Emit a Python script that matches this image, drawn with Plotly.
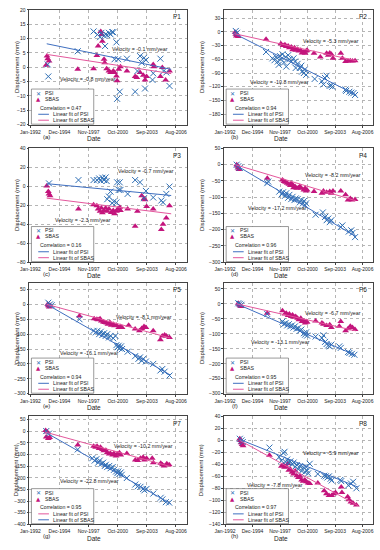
import plotly.graph_objects as go
import pandas as pd

# ---------------- data (decimal year, displacement mm) ----------------
P1_PSI = [(1993.74, 1.0), (1993.80, -3.2), (1996.75, 5.6), (1998.33, 12.5), (1998.72, 11.4), (1998.98, 10.5),
          (1999.11, 12.0), (1999.38, 11.0), (1999.54, 11.5), (1999.70, 11.2), (1999.87, 12.0), (2000.03, 11.5),
          (2000.20, 12.3), (1999.48, 7.4), (2000.30, 12.2), (2000.43, 2.8), (2000.62, 8.7), (2000.79, 2.8),
          (2000.69, -11.0), (2000.95, -8.5), (2001.67, 3.0), (2002.49, -8.5), (2002.72, -1.3), (2002.98, 3.9),
          (2003.15, 1.6), (2003.38, 3.3), (2003.57, 2.5), (2003.48, -7.4), (2004.23, -4.4), (2004.30, -2.1),
          (2005.02, 3.0), (2005.34, -1.3), (2005.61, -1.8), (2005.93, -6.5)]
P1_SBAS = [(1993.57, 0.7), (1993.67, 3.9), (1993.74, 3.0), (1993.87, 2.2), (1996.75, -0.7), (1998.33, -0.5),
           (1998.66, 4.1), (1998.79, 7.4), (1999.05, 12.5), (1999.15, 11.4), (1999.21, 9.1), (1999.38, 2.8),
           (1999.44, 1.6), (1999.64, -0.5), (1999.87, -1.3), (2000.03, -1.8), (2000.30, -1.3), (2000.43, -1.8),
           (2000.62, -3.0), (2000.69, -4.7), (2000.85, -0.7), (2001.02, 0.2), (2001.67, -1.3), (2002.49, -3.2),
           (2002.66, -3.6), (2002.98, -1.8), (2003.31, -2.8), (2003.48, -4.4), (2003.64, -3.2), (2004.30, 1.0),
           (2004.36, 0.2), (2005.02, -3.2), (2005.21, -0.1), (2005.54, -4.4), (2005.93, -1.3)]
P1_FIT_T = [1993.64, 2006.10]
P1_FIT_PSI = [8.2, -0.7]
P1_FIT_SBAS = [4.5, -2.2]

P2_PSI = [(1993.14, 2), (1993.27, -2), (1996.35, -44), (1997.02, -58), (1997.25, -62), (1997.42, -55),
          (1997.59, -65), (1997.69, -72), (1997.82, -53), (1997.92, -60), (1998.09, -49), (1998.25, -67),
          (1998.42, -55), (1998.49, -76), (1998.69, -51), (1998.82, -60), (1999.02, -65), (1999.26, -58),
          (1999.42, -65), (1999.49, -79), (1999.69, -70), (1999.93, -79), (2000.09, -74), (2000.16, -87),
          (2000.36, -90), (2000.43, -83), (2000.60, -94), (2001.50, -103), (2002.27, -108), (2002.43, -115),
          (2002.60, -101), (2002.77, -96), (2003.10, -118), (2003.27, -117), (2003.37, -120), (2004.78, -126),
          (2004.84, -129), (2005.18, -131), (2005.38, -133), (2005.61, -134), (2005.78, -138)]
P2_SBAS = [(1993.07, -1), (1993.14, -5), (1993.20, -9), (1993.30, -6), (1993.40, -10), (1996.35, -16),
           (1997.92, -26), (1998.15, -30), (1998.35, -28), (1998.49, -32), (1998.69, -31), (1998.82, -35),
           (1999.02, -33), (1999.16, -39), (1999.36, -35), (1999.49, -40), (1999.69, -38), (1999.83, -42),
           (2000.03, -40), (2000.16, -46), (2000.36, -44), (2000.49, -47), (2000.60, -42), (2000.70, -40),
           (2001.43, -47), (2002.10, -55), (2002.77, -47), (2002.94, -51), (2003.10, -46), (2003.27, -49),
           (2003.44, -58), (2004.27, -47), (2004.44, -58), (2004.78, -65), (2005.04, -64), (2005.28, -63),
           (2005.51, -64), (2005.78, -63)]
P2_FIT_T = [1993.0, 2005.90]
P2_FIT_PSI = [-4, -138]
P2_FIT_SBAS = [-4, -63]

P3_PSI = [(1993.87, 3.1), (1996.82, 6.6), (1998.33, 6.6), (1998.66, 6.6), (1998.89, 8.3), (1999.05, 5.9),
          (1999.21, 9.0), (1999.38, 6.6), (1999.54, 9.4), (1999.64, 5.6), (1999.70, -13.6), (1999.87, -10.8),
          (2000.03, -5.6), (2000.20, -17.7), (2000.36, -16.0), (2000.62, -17.0), (2000.69, 4.2), (2000.85, -3.8),
          (2000.95, 4.2), (2001.02, -3.8), (2001.74, -8.0), (2002.49, 6.6), (2002.98, 4.2), (2003.38, -12.5),
          (2003.57, -4.9), (2004.30, -11.8), (2005.11, -15.0), (2005.28, -17.0), (2005.61, -8.0), (2005.93, -0.3)]
P3_SBAS = [(1993.64, 0.3), (1993.80, -5.6), (1993.87, -8.0), (1993.97, -10.0), (1996.82, -24), (1998.33, -19.5),
           (1998.66, -20.5), (1998.79, -24), (1998.98, -26.4), (1999.11, -23), (1999.21, -28), (1999.38, -25.4),
           (1999.54, -23), (1999.70, -26.4), (1999.87, -24), (2000.10, -27.5), (2000.30, -25.4), (2000.43, -29),
           (2000.62, -26.4), (2000.75, -24), (2000.95, -22), (2001.02, -25.4), (2001.74, -24), (2002.49, -42),
           (2002.72, -26.4), (2003.15, -10), (2003.38, -13.2), (2003.48, -14.3), (2003.64, -21.2), (2004.30, -24),
           (2005.11, -45.5), (2005.28, -40), (2005.61, -33.4), (2005.93, -20.5)]
P3_FIT_T = [1993.64, 2006.10]
P3_FIT_PSI = [2.8, -9.7]
P3_FIT_SBAS = [-12.5, -29]

P4_PSI = [(1993.24, 0), (1993.40, -5), (1993.57, -10), (1996.48, -57), (1996.58, -52), (1997.75, -83),
          (1998.02, -91), (1998.15, -85), (1998.35, -96), (1998.49, -88), (1998.69, -102), (1998.82, -93),
          (1999.02, -106), (1999.16, -99), (1999.36, -109), (1999.49, -104), (1999.69, -106), (1999.93, -116),
          (2000.09, -109), (2000.26, -119), (2000.36, -112), (2000.49, -125), (2000.60, -119), (2001.60, -154),
          (2002.37, -147), (2002.60, -161), (2002.77, -171), (2002.94, -166), (2003.10, -177), (2003.27, -171),
          (2004.27, -192), (2004.44, -187), (2005.11, -206), (2005.38, -202), (2005.51, -210), (2005.78, -223)]
P4_SBAS = [(1993.24, 0), (1993.34, -5), (1993.40, -10), (1993.47, -15), (1996.48, -42), (1998.09, -47),
           (1998.25, -52), (1998.42, -54), (1998.59, -57), (1998.76, -60), (1998.92, -64), (1999.02, -57),
           (1999.16, -62), (1999.26, -71), (1999.42, -67), (1999.59, -73), (1999.76, -71), (1999.93, -67),
           (2000.09, -73), (2000.36, -78), (2000.49, -73), (2000.60, -81), (2000.70, -78), (2001.43, -83),
           (2002.27, -88), (2002.43, -81), (2002.77, -85), (2003.10, -83), (2003.27, -88), (2003.44, -81),
           (2004.27, -81), (2004.78, -93), (2005.04, -109), (2005.28, -104), (2005.44, -109), (2005.78, -107)]
P4_FIT_T = [1993.07, 2005.85]
P4_FIT_PSI = [0, -221]
P4_FIT_SBAS = [0, -111]

P5_PSI = [(1993.80, 5.5), (1993.97, 0), (1994.13, -3), (1996.92, -50), (1998.33, -89), (1998.56, -94),
          (1998.72, -89), (1998.89, -100), (1999.05, -92), (1999.21, -103), (1999.38, -97), (1999.54, -106),
          (1999.70, -100), (1999.87, -111), (2000.03, -106), (2000.30, -114), (2000.52, -106), (2000.62, -137),
          (2000.75, -144), (2000.85, -139), (2000.95, -148), (2001.08, -141), (2001.18, -150), (2001.74, -159),
          (2002.49, -174), (2002.82, -183), (2002.98, -178), (2003.15, -189), (2003.31, -183), (2003.57, -192),
          (2004.30, -200), (2005.02, -222), (2005.21, -217), (2005.44, -226), (2005.93, -239)]
P5_SBAS = [(1993.74, 0), (1993.80, -5), (1993.90, -9), (1993.97, -3), (1996.92, -39), (1998.39, -48),
           (1998.66, -50), (1998.79, -52), (1998.98, -48), (1999.11, -56), (1999.31, -59), (1999.44, -61),
           (1999.64, -63), (1999.77, -67), (1999.97, -61), (2000.10, -70), (2000.30, -67), (2000.43, -72),
           (2000.62, -70), (2000.85, -78), (2001.02, -74), (2001.18, -78), (2001.84, -70), (2002.49, -83),
           (2002.92, -89), (2003.15, -81), (2003.38, -74), (2003.57, -78), (2004.30, -89), (2005.02, -119),
           (2005.21, -106), (2005.44, -103), (2005.61, -106), (2005.93, -111)]
P5_FIT_T = [1993.64, 2006.0]
P5_FIT_PSI = [0, -237]
P5_FIT_SBAS = [0, -113]

P6_PSI = [(1993.40, 2), (1993.57, 0), (1993.74, -3), (1996.48, -34), (1998.09, -59), (1998.25, -68),
          (1998.42, -64), (1998.59, -72), (1998.76, -68), (1998.92, -75), (1999.09, -72), (1999.26, -79),
          (1999.42, -75), (1999.59, -83), (1999.76, -81), (1999.93, -90), (2000.09, -86), (2000.36, -98),
          (2000.49, -103), (2000.60, -95), (2000.70, -106), (2001.60, -109), (2002.27, -114), (2002.43, -105),
          (2002.60, -127), (2002.77, -134), (2002.94, -139), (2003.10, -142), (2003.27, -136), (2004.11, -142),
          (2004.27, -147), (2005.04, -161), (2005.18, -164), (2005.44, -167), (2005.71, -170)]
P6_SBAS = [(1993.40, 2), (1993.51, -3), (1993.61, -7), (1993.74, -9), (1996.48, -31), (1998.09, -23),
           (1998.35, -34), (1998.49, -31), (1998.69, -39), (1998.82, -34), (1999.02, -42), (1999.16, -37),
           (1999.36, -45), (1999.49, -42), (1999.69, -48), (1999.83, -53), (2000.03, -48), (2000.16, -59),
           (2000.36, -57), (2000.49, -64), (2000.60, -59), (2000.70, -61), (2001.60, -57), (2002.27, -64),
           (2002.43, -68), (2002.77, -72), (2003.10, -70), (2003.27, -79), (2004.11, -75), (2004.27, -59),
           (2004.78, -90), (2005.04, -83), (2005.28, -75), (2005.51, -79), (2005.78, -86)]
P6_FIT_T = [1993.24, 2005.85]
P6_FIT_PSI = [0, -172]
P6_FIT_SBAS = [0, -90]

P7_PSI = [(1993.59, 1), (1993.86, -10), (1996.75, -78), (1998.20, -116), (1998.44, -126), (1998.61, -120),
          (1998.78, -135), (1998.95, -126), (1999.12, -140), (1999.29, -135), (1999.46, -149), (1999.56, -144),
          (1999.69, -154), (1999.90, -149), (2000.03, -159), (2000.24, -154), (2000.37, -166), (2000.58, -173),
          (2000.71, -180), (2000.81, -173), (2000.92, -183), (2001.05, -177), (2001.15, -187), (2001.66, -201),
          (2002.51, -229), (2002.75, -237), (2003.02, -239), (2003.29, -248), (2003.42, -254), (2003.63, -248),
          (2004.31, -268), (2005.05, -286), (2005.22, -293), (2005.56, -305), (2005.90, -307)]
P7_SBAS = [(1993.53, 4), (1993.69, -3), (1993.59, -24), (1993.80, -31), (1993.93, -27), (1996.75, -59),
           (1998.34, -64), (1998.54, -69), (1998.68, -64), (1998.88, -74), (1999.02, -69), (1999.22, -78),
           (1999.36, -84), (1999.56, -81), (1999.69, -92), (1999.90, -98), (2000.03, -95), (2000.24, -102),
           (2000.37, -95), (2000.58, -106), (2000.71, -98), (2000.92, -92), (2001.05, -102), (2001.66, -95),
           (2002.51, -123), (2002.75, -126), (2003.02, -116), (2003.29, -112), (2003.42, -123), (2003.63, -116),
           (2004.20, -116), (2004.31, -135), (2005.05, -137), (2005.22, -144), (2005.39, -149), (2005.66, -140),
           (2005.90, -144)]
P7_FIT_T = [1993.46, 2006.07]
P7_FIT_PSI = [-3, -312]
P7_FIT_SBAS = [-3, -152]

P8_PSI = [(1993.57, 2.7), (1993.74, 0), (1993.88, -2.7), (1996.71, -12), (1997.73, -28), (1997.97, -34),
          (1998.18, -21), (1998.31, -19), (1998.42, -36), (1998.59, -32), (1998.76, -37), (1998.93, -35),
          (1999.10, -40), (1999.27, -37), (1999.44, -44), (1999.61, -41), (1999.78, -48), (1999.95, -43),
          (2000.12, -51), (2000.29, -45), (2000.46, -53), (2000.57, -44), (2000.70, -50), (2000.81, -55),
          (2000.98, -39), (2001.83, -56), (2002.51, -59), (2002.68, -60), (2002.85, -62), (2003.02, -60),
          (2003.19, -64), (2003.30, -67), (2004.22, -66), (2004.32, -68), (2005.07, -75), (2005.34, -72),
          (2005.58, -69), (2005.92, -80)]
P8_SBAS = [(1993.57, 2.7), (1993.64, 0), (1993.71, -4), (1993.81, -7), (1993.91, -9), (1996.71, -25),
           (1997.97, -43), (1998.18, -41), (1998.31, -45), (1998.52, -44), (1998.66, -39), (1998.76, -50),
           (1998.93, -48), (1999.10, -53), (1999.27, -56), (1999.44, -51), (1999.61, -59), (1999.78, -62),
           (1999.95, -60), (2000.12, -66), (2000.29, -68), (2000.46, -66), (2000.63, -69), (2000.81, -71),
           (2000.98, -72), (2001.83, -71), (2002.51, -84), (2002.75, -89), (2003.02, -92), (2003.30, -92),
           (2003.54, -89), (2003.71, -87), (2004.32, -78), (2004.39, -87), (2005.00, -94), (2005.14, -99),
           (2005.34, -103), (2005.58, -105), (2005.92, -108)]
P8_FIT_T = [1993.57, 2006.10]
P8_FIT_PSI = [1.6, -78]
P8_FIT_SBAS = [0, -109]

PANEL_NAMES = ["P1", "P2", "P3", "P4", "P5", "P6", "P7", "P8"]
PANEL_LETTERS = ["(a)", "(b)", "(c)", "(d)", "(e)", "(f)", "(g)", "(h)"]
CORRELATIONS = ["0.47", "0.94", "0.16", "0.96", "0.94", "0.95", "0.95", "0.97"]
VEL_UPPER = ["-0.1", "-5.3", "-0.7", "-8.2", "-8.1", "-6.7", "-10.2", "-5.9"]
VEL_LOWER = ["-0.8", "-10.8", "-2.3", "-17.2", "-16.1", "-13.1", "-22.8", "-7.8"]
Y_RANGES = [(-20, 20), (-203, 48), (-80, 40), (-300, 50), (-300, 72), (-300, 70), (-400, 64), (-140, 40)]
Y_DTICK = [5, 30, 20, 50, 50, 50, 50, 20]
X_TICK_DATES = ["1992-01-01", "1994-12-01", "1997-11-01", "2000-10-01", "2003-09-01", "2006-08-01"]
X_TICK_TEXT = ["Jan-1992", "Dec-1994", "Nov-1997", "Oct-2000", "Sep-2003", "Aug-2006"]
X_RANGE = ["1991-12-01", "2007-09-15"]

PSI_SETS = [P1_PSI, P2_PSI, P3_PSI, P4_PSI, P5_PSI, P6_PSI, P7_PSI, P8_PSI]
SBAS_SETS = [P1_SBAS, P2_SBAS, P3_SBAS, P4_SBAS, P5_SBAS, P6_SBAS, P7_SBAS, P8_SBAS]
FIT_T = [P1_FIT_T, P2_FIT_T, P3_FIT_T, P4_FIT_T, P5_FIT_T, P6_FIT_T, P7_FIT_T, P8_FIT_T]
FIT_PSI = [P1_FIT_PSI, P2_FIT_PSI, P3_FIT_PSI, P4_FIT_PSI, P5_FIT_PSI, P6_FIT_PSI, P7_FIT_PSI, P8_FIT_PSI]
FIT_SBAS = [P1_FIT_SBAS, P2_FIT_SBAS, P3_FIT_SBAS, P4_FIT_SBAS, P5_FIT_SBAS, P6_FIT_SBAS, P7_FIT_SBAS, P8_FIT_SBAS]

# ---------------- layout (pixels) ----------------
W, H = 380, 550
COLS = [(20, 182), (220, 373)]
ROWS = [(7, 123), (147, 262), (283, 395), (418, 527)]
VEL_POS_UPPER = [(133, 47), (330, 38), (140, 170), (332, 174), (138, 317), (332, 313), (137, 448), (330, 455)]
VEL_POS_LOWER = [(80, 77), (277, 80), (75, 219), (275, 207), (82, 354), (278, 343), (82, 483), (272, 487)]

PSI_COLOR = "#2f6fb5"
SBAS_COLOR = "#c3147c"
FIT_PSI_COLOR = "#3f6fc0"
FIT_SBAS_COLOR = "#e3579c"
FONT = "Liberation Sans"
TXT = "#222222"


def to_date(v):
    y = int(v)
    return pd.Timestamp(year=y, month=1, day=1) + pd.Timedelta(days=(v - y) * 365.25)


def px(x):
    return x / W


def py(y):
    return 1 - y / H


fig = go.Figure()
shapes = []
annotations = []

for k in range(8):
    r, c = k // 2, k % 2
    x0, x1 = COLS[c]
    y0, y1 = ROWS[r]
    sfx = "" if k == 0 else str(k + 1)
    xa, ya = "x" + sfx, "y" + sfx

    psi_t = [to_date(p[0]) for p in PSI_SETS[k]]
    psi_d = [p[1] for p in PSI_SETS[k]]
    sb_t = [to_date(p[0]) for p in SBAS_SETS[k]]
    sb_d = [p[1] for p in SBAS_SETS[k]]
    ft = [to_date(t) for t in FIT_T[k]]

    fig.add_trace(go.Scatter(x=sb_t, y=sb_d, mode="markers", xaxis=xa, yaxis=ya, showlegend=False,
                             marker=dict(symbol="triangle-up", size=6, color=SBAS_COLOR, line=dict(width=0))))
    fig.add_trace(go.Scatter(x=psi_t, y=psi_d, mode="markers", xaxis=xa, yaxis=ya, showlegend=False,
                             marker=dict(symbol="x-thin-open", size=6, color=PSI_COLOR,
                                         line=dict(width=1, color=PSI_COLOR))))
    fig.add_trace(go.Scatter(x=ft, y=FIT_PSI[k], mode="lines", xaxis=xa, yaxis=ya, showlegend=False,
                             line=dict(color=FIT_PSI_COLOR, width=1)))
    fig.add_trace(go.Scatter(x=ft, y=FIT_SBAS[k], mode="lines", xaxis=xa, yaxis=ya, showlegend=False,
                             line=dict(color=FIT_SBAS_COLOR, width=1)))

    common = dict(showline=True, mirror=True, linecolor="#444444", linewidth=0.8,
                  showgrid=True, gridcolor="#b5b5b5", gridwidth=0.6, griddash="dot",
                  ticks="outside", ticklen=2, tickwidth=0.6, tickcolor="#444444",
                  tickfont=dict(family=FONT, size=5, color=TXT), zeroline=False)
    fig.layout["xaxis" + sfx] = dict(domain=[px(x0), px(x1)], anchor=ya, type="date", range=X_RANGE,
                                     tickvals=X_TICK_DATES, ticktext=X_TICK_TEXT, **common)
    fig.layout["yaxis" + sfx] = dict(domain=[py(y1), py(y0)], anchor=xa, range=list(Y_RANGES[k]),
                                     dtick=Y_DTICK[k], tick0=0, **common)

    # panel name
    annotations.append(dict(x=px(x1 - 4), y=py(y0 + 7), xref="paper", yref="paper", text=PANEL_NAMES[k],
                            showarrow=False, xanchor="right", yanchor="middle",
                            font=dict(family=FONT, size=6.5, color=TXT)))
    # velocity labels
    for (vx, vy), val in ((VEL_POS_UPPER[k], VEL_UPPER[k]), (VEL_POS_LOWER[k], VEL_LOWER[k])):
        annotations.append(dict(x=px(vx), y=py(vy), xref="paper", yref="paper",
                                text="Velocity = " + val + " mm/year", showarrow=False,
                                xanchor="center", yanchor="middle",
                                font=dict(family=FONT, size=5.3, color=TXT)))
    # axis titles
    annotations.append(dict(x=px(7 if c == 0 else 197), y=py((y0 + y1) / 2), xref="paper", yref="paper",
                            text="Displacement (mm)", textangle=-90, showarrow=False,
                            xanchor="center", yanchor="middle", font=dict(family=FONT, size=6, color=TXT)))
    annotations.append(dict(x=px(x0 + (66 if c == 0 else 58)), y=py(y1 + 14), xref="paper", yref="paper",
                            text="Date", showarrow=False, xanchor="center", yanchor="middle",
                            font=dict(family=FONT, size=6.5, color=TXT)))
    annotations.append(dict(x=px(x0 + (17 if c == 0 else 11)), y=py(y1 + 12), xref="paper", yref="paper",
                            text=PANEL_LETTERS[k], showarrow=False, xanchor="center", yanchor="middle",
                            font=dict(family=FONT, size=6, color=TXT)))

    # legend box
    lx0, lx1 = x0 + 2, x0 + 66
    ly0, ly1 = y1 - 36, y1 - 0.5
    shapes.append(dict(type="rect", xref="paper", yref="paper", x0=px(lx0), x1=px(lx1), y0=py(ly1), y1=py(ly0),
                       fillcolor="white", line=dict(color="#555555", width=0.6), layer="above"))
    rows_y = [y1 - 32, y1 - 26, y1 - 17, y1 - 10.5, y1 - 4.5]
    annotations.append(dict(x=px(lx0 + 7), y=py(rows_y[0]), xref="paper", yref="paper", text="✕",
                            showarrow=False, xanchor="center", yanchor="middle",
                            font=dict(family="DejaVu Sans", size=6, color=PSI_COLOR)))
    annotations.append(dict(x=px(lx0 + 7), y=py(rows_y[1]), xref="paper", yref="paper", text="▲",
                            showarrow=False, xanchor="center", yanchor="middle",
                            font=dict(family="DejaVu Sans", size=5.5, color=SBAS_COLOR)))
    for yy, t in ((rows_y[0], "PSI"), (rows_y[1], "SBAS")):
        annotations.append(dict(x=px(lx0 + 12), y=py(yy), xref="paper", yref="paper", text=t,
                                showarrow=False, xanchor="left", yanchor="middle",
                                font=dict(family=FONT, size=5.2, color=TXT)))
    annotations.append(dict(x=px(lx0 + 7), y=py(rows_y[2]), xref="paper", yref="paper",
                            text="Correlation = " + CORRELATIONS[k], showarrow=False, xanchor="left",
                            yanchor="middle", font=dict(family=FONT, size=5.2, color=TXT)))
    # P7 legend in the original swaps the line colours
    c_first, c_second = (FIT_SBAS_COLOR, FIT_PSI_COLOR) if k == 6 else (FIT_PSI_COLOR, FIT_SBAS_COLOR)
    for yy, t, col in ((rows_y[3], "Linear fit of PSI", c_first), (rows_y[4], "Linear fit of SBAS", c_second)):
        shapes.append(dict(type="line", xref="paper", yref="paper", x0=px(lx0 + 7), x1=px(lx0 + 18),
                           y0=py(yy), y1=py(yy), line=dict(color=col, width=1), layer="above"))
        annotations.append(dict(x=px(lx0 + 20), y=py(yy), xref="paper", yref="paper", text=t,
                                showarrow=False, xanchor="left", yanchor="middle",
                                font=dict(family=FONT, size=5.2, color=TXT)))

fig.update_layout(width=W, height=H, margin=dict(l=0, r=0, t=0, b=0),
                  paper_bgcolor="white", plot_bgcolor="white", showlegend=False,
                  shapes=shapes, annotations=annotations,
                  font=dict(family=FONT, size=5, color=TXT))
fig.write_html("out.html", config={"displayModeBar": False},
               post_script="document.body.style.margin='0';document.body.style.overflow='hidden';")
